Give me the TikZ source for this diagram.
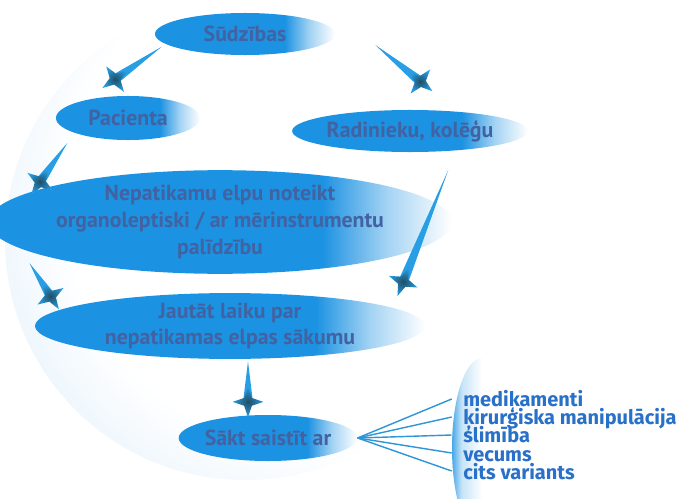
\documentclass[tikz,border=0pt]{standalone}
\usepackage{fontspec}
\setmainfont{PT Sans}
\newfontfamily\listfont{Fira Sans}
\usetikzlibrary{positioning,shapes.geometric,calc}

\definecolor{bubbleblue}{RGB}{28,146,226}
\definecolor{txtblue}{RGB}{66,98,162}
\definecolor{listblue}{RGB}{40,112,200}
\definecolor{flowblue}{RGB}{40,158,228}
\definecolor{tipdark}{RGB}{32,78,100}
\definecolor{sphereblue}{RGB}{216,235,250}
\definecolor{fanblue}{RGB}{45,150,215}

\pgfdeclarehorizontalshading{bubblefade}{100bp}{color(0bp)=(bubbleblue); color(61bp)=(bubbleblue); color(68bp)=(bubbleblue!40!white); color(75bp)=(white); color(100bp)=(white)}
\pgfdeclarehorizontalshading{bracketfade}{100bp}{color(0bp)=(bubbleblue!80!white); color(25bp)=(bubbleblue!80!white); color(33bp)=(bubbleblue!25!white); color(50bp)=(white); color(100bp)=(white)}
\pgfdeclareradialshading{spherefade}{\pgfpoint{14bp}{8bp}}{color(0bp)=(white); color(26bp)=(white); color(40bp)=(sphereblue); color(55bp)=(sphereblue)}

\tikzset{
  bubble/.style={ellipse, shading=bubblefade, text=txtblue, align=center, inner sep=0pt,
    font=\fontsize{15.5}{19}\selectfont\bfseries},
  tipstar/.style={star, star points=4, star point ratio=2.8, minimum size=22pt, inner sep=0pt,
    shading=radial, inner color=tipdark, outer color=flowblue},
  causelist/.style={anchor=west, inner sep=0pt, align=left, text=listblue,
    font=\listfont\fontsize{14.2}{13}\selectfont\bfseries,
    execute at begin node={\lineskiplimit=-20pt}},
  fan/.style={draw=fanblue, line width=1pt}
}

% tapered connector with a star tip
\newcommand{\flowto}[2]{%
  \path[fill=flowblue] let \p1=($(#2)-(#1)$), \n1={atan2(\y1,\x1)}, \p2=($(#2)!7pt!(#1)$) in
    (#1) -- ($(\p2)!3.5pt!90:(#1)$) -- ($(\p2)!3.5pt!-90:(#1)$) -- cycle
    node[tipstar, rotate=\n1] at (\p2) {};
}

\begin{document}
\begin{tikzpicture}[x=0.025cm, y=-0.025cm]
\clip (0,0) rectangle (677,499);
\fill[white] (0,0) rectangle (677,499);
\shade[shading=spherefade] (245,240) circle (240);

\node[bubble, minimum width=4.5cm, minimum height=1.05cm] (sud) at (245,34) {Sūdzības};
\node[bubble, minimum width=3.6cm, minimum height=1.1cm] (pac) at (128,118) {Pacienta};
\node[bubble, minimum width=4.6cm, minimum height=1.05cm] (rad) at (410,131) {Radinieku, kolēģu};
\node[bubble, minimum width=10.6cm, minimum height=2.2cm] (nep) at (220,222)
  {Nepatikamu elpu noteikt\\organoleptiski / ar mērinstrumentu\\palīdzību};
\node[bubble, minimum width=9.75cm, minimum height=1.6cm] (jau) at (230,326)
  {Jautāt laiku par\\nepatikamas elpas sākumu};
\node[bubble, minimum width=4.4cm, minimum height=1.15cm] (sak) at (268,438) {Sākt saistīt ar};

%bracket with the list
\node[ellipse, shading=bracketfade, minimum width=1.5cm, minimum height=4.5cm] (brk) at (482,448) {};
\node[causelist] (causes) at (463,435)
  {medikamenti\\ķirurģiska manipulācija\\slimība\\vecums\\cits variants};
\foreach \y in {399,417,435,453,471}
    \draw[fan] (sak.east) -- (brk.west |- 0,\y);

\flowto{[shift={(-11,0)}]sud.190}{[shift={(-15,-11)}]pac.105}
\flowto{[shift={(40,11)}]sud.east}{[shift={(18,-22)}]rad.north}
\flowto{[shift={(-14,8)}]pac.200}{[shift={(-3,0)}]nep.170}
\flowto{[shift={(26,18)}]rad.-60}{[shift={(11,33)}]nep.-12}
\flowto{[shift={(-8,9)}]nep.190}{[shift={(-8,-4)}]jau.174}
\flowto{[shift={(18,2)}]jau.south}{[shift={(-20,-3)}]sak.north}
\end{tikzpicture}
\end{document}
